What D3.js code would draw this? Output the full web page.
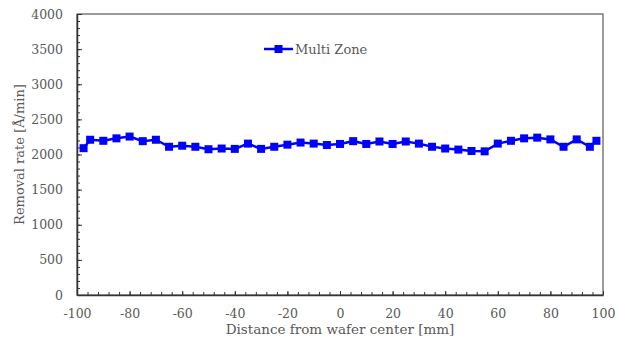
<!DOCTYPE html>
<html><head><meta charset="utf-8">
<script src="https://cdn.jsdelivr.net/npm/d3@7"></script>
<style>body{margin:0;background:#fff}svg{display:block}</style>
</head><body>
<svg id="c" width="628" height="344"></svg>
<script>
const positions = [-97.5,-95,-90,-85,-80,-75,-70,-65,-60,-55,-50,-45,-40,-35,-30,-25,-20,-15,-10,-5,0,5,10,15,20,25,30,35,40,45,50,55,60,65,70,75,80,85,90,95,97.5];
const removalRate = [2090,2210,2195,2230,2255,2190,2210,2110,2125,2110,2075,2085,2080,2155,2080,2110,2140,2170,2155,2135,2150,2190,2150,2185,2150,2185,2155,2110,2085,2070,2050,2045,2155,2195,2230,2240,2215,2110,2215,2110,2195];
const xTicks = [-100,-80,-60,-40,-20,0,20,40,60,80,100];
const yTicks = [0,500,1000,1500,2000,2500,3000,3500,4000];
const seriesName = "Multi Zone";

const svg = d3.select("#c");
const L=77,R=603,T=14,B=295;
const x = d3.scaleLinear().domain([-100,100]).range([L,R]);
const y = d3.scaleLinear().domain([0,4000]).range([B,T]);
const font = "DejaVu Serif";
const txt = "#595959";

// frame
svg.append("rect").attr("x",L).attr("y",T).attr("width",R-L).attr("height",B-T)
  .attr("fill","none").attr("stroke","#595959").attr("stroke-width",1.2);

// x axis
const xMinor = d3.range(-100,101,4);
const gx = svg.append("g").attr("transform",`translate(0,${B})`)
  .call(d3.axisBottom(x).tickValues(xMinor).tickSizeInner(-3).tickSizeOuter(0).tickFormat(""));
gx.select(".domain").attr("stroke","#333").attr("stroke-width",1.5);
gx.selectAll(".tick line").attr("stroke","#333");
const gx2 = svg.append("g").attr("transform",`translate(0,${B})`)
  .call(d3.axisBottom(x).tickValues(xTicks).tickSizeInner(-4).tickSizeOuter(0).tickPadding(14).tickFormat(d=>String(d)));
gx2.select(".domain").remove();
gx2.selectAll(".tick line").attr("stroke","#333");
gx2.selectAll("text").attr("font-family",font).attr("font-size",12.5).attr("fill",txt);

// y axis
const yMinor = d3.range(0,4001,100);
const gy = svg.append("g").attr("transform",`translate(${L},0)`)
  .call(d3.axisLeft(y).tickValues(yMinor).tickSizeInner(-3).tickSizeOuter(0).tickFormat(""));
gy.select(".domain").attr("stroke","#333").attr("stroke-width",1.5);
gy.selectAll(".tick line").attr("stroke","#333");
const gy2 = svg.append("g").attr("transform",`translate(${L},0)`)
  .call(d3.axisLeft(y).tickValues(yTicks).tickSizeInner(-5).tickSizeOuter(0).tickPadding(14).tickFormat(d=>String(d)));
gy2.select(".domain").remove();
gy2.selectAll(".tick line").attr("stroke","#333");
gy2.selectAll("text").attr("font-family",font).attr("font-size",12.5).attr("fill",txt);

// titles
svg.append("text").attr("x",(L+R)/2).attr("y",334).attr("text-anchor","middle")
  .attr("font-family",font).attr("font-size",13.5).attr("fill",txt).text("Distance from wafer center [mm]");
svg.append("text").attr("transform",`translate(24,${(T+B)/2}) rotate(-90)`).attr("text-anchor","middle")
  .attr("font-family",font).attr("font-size",13).attr("fill",txt).text("Removal rate [Å/min]");

// series
const data = positions.map((p,i)=>({x:p,y:removalRate[i]}));
const blue = "#0000ff";
svg.append("path").datum(data).attr("fill","none").attr("stroke",blue).attr("stroke-width",2.5)
  .attr("d",d3.line().x(d=>x(d.x)).y(d=>y(d.y)));
const ms = 8;
svg.selectAll("rect.m").data(data).join("rect").attr("class","m")
  .attr("x",d=>x(d.x)-ms/2).attr("y",d=>y(d.y)-ms/2).attr("width",ms).attr("height",ms).attr("fill",blue);

// legend
const lg = svg.append("g").attr("transform","translate(264,49)");
lg.append("line").attr("x1",0).attr("x2",29).attr("y1",0).attr("y2",0).attr("stroke",blue).attr("stroke-width",2.5);
lg.append("rect").attr("x",10.5).attr("y",-4).attr("width",8).attr("height",8).attr("fill",blue);
lg.append("text").attr("x",31).attr("y",4.5).attr("font-family",font).attr("font-size",13).attr("fill",txt).text(seriesName);
</script>
</body></html>
